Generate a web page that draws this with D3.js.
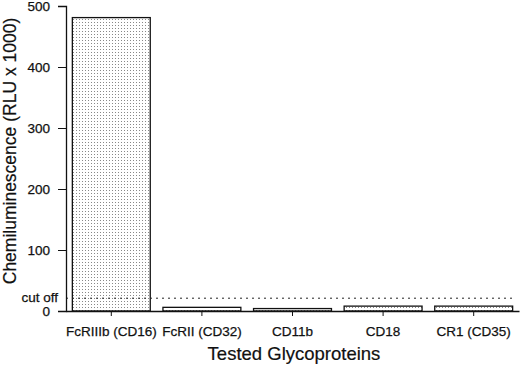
<!DOCTYPE html>
<html>
<head>
<meta charset="utf-8">
<script src="https://cdn.jsdelivr.net/npm/d3@7"></script>
<style>
    body { margin: 0; background: #fff; }
    svg { display: block; font-family: "Liberation Sans", Arial, sans-serif; }
</style>
</head>
<body>
<div id="chart"></div>
<script>
const categories = ['FcRIIIb (CD16)', 'FcRII (CD32)', 'CD11b', 'CD18', 'CR1 (CD35)']
const values = [481, 6, 4, 8, 8]
const yTicks = [0, 100, 200, 300, 400, 500]
const cutOff = 21

const width = 520, height = 365
const svg = d3.select('#chart').append('svg')
    .attr('width', width)
    .attr('height', height)

// stipple fill for bars
const defs = svg.append('defs')
const pat = defs.append('pattern')
    .attr('id', 'dots')
    .attr('patternUnits', 'userSpaceOnUse')
    .attr('width', 3)
    .attr('height', 3)
pat.append('rect').attr('width', 3).attr('height', 3).attr('fill', '#fff')
pat.append('rect').attr('x', 1).attr('y', 1).attr('width', 1).attr('height', 1).attr('fill', '#888')

const x = d3.scaleBand()
    .domain(categories)
    .range([66, 519])
    .paddingInner(0.14)
    .paddingOuter(0.07)

const y = d3.scaleLinear()
    .domain([0, 500])
    .range([311, 6])

// bars
svg.append('g')
    .selectAll('rect')
    .data(values)
    .enter()
    .append('rect')
    .attr('x', (d, i) => x(categories[i]))
    .attr('y', d => y(d))
    .attr('width', x.bandwidth())
    .attr('height', d => y(0) - y(d))
    .attr('fill', 'url(#dots)')
    .attr('stroke', '#111')
    .attr('stroke-width', 1.3)

// cut off line
svg.append('line')
    .attr('x1', 66)
    .attr('x2', 515)
    .attr('y1', y(cutOff))
    .attr('y2', y(cutOff))
    .attr('stroke', '#222')
    .attr('stroke-width', 1)
    .attr('stroke-dasharray', '2,4')

// y axis, minor ticks every 20
const yAxisG = svg.append('g')
    .attr('transform', 'translate(66,0)')
yAxisG.call(d3.axisLeft(y).tickValues(d3.range(0, 501, 20)).tickSize(5).tickFormat(''))
yAxisG.call(d3.axisLeft(y).tickValues(yTicks).tickSize(8).tickPadding(8).tickFormat(d3.format('d')))
yAxisG.selectAll('.domain').attr('stroke', '#111').attr('stroke-width', 1.3)
yAxisG.selectAll('line').attr('stroke', '#111')
yAxisG.selectAll('text').attr('font-size', 13.5).attr('fill', '#111')
    .attr('stroke', '#111').attr('stroke-width', 0.25)

svg.append('text')
    .attr('x', 58)
    .attr('y', y(cutOff) + 4)
    .attr('text-anchor', 'end')
    .attr('font-size', 13.5)
    .attr('fill', '#111')
    .attr('stroke', '#111').attr('stroke-width', 0.25)
    .text('cut off')

// x axis
const xAxisG = svg.append('g')
    .attr('transform', `translate(0,${y(0)})`)
    .call(d3.axisBottom(x).tickSize(5).tickSizeOuter(0).tickPadding(10))
xAxisG.selectAll('.domain').attr('stroke', '#111').attr('stroke-width', 1.3)
xAxisG.selectAll('line').attr('stroke', '#111')
xAxisG.selectAll('text').attr('font-size', 13.5).attr('fill', '#111')
    .attr('stroke', '#111').attr('stroke-width', 0.25)

// titles
svg.append('text')
    .attr('x', 294)
    .attr('y', 360)
    .attr('text-anchor', 'middle')
    .attr('font-size', 18.5)
    .attr('fill', '#111')
    .attr('stroke', '#111').attr('stroke-width', 0.2)
    .text('Tested Glycoproteins')

svg.append('text')
    .attr('transform', 'translate(16,151) rotate(-90)')
    .attr('text-anchor', 'middle')
    .attr('font-size', 17.5)
    .attr('fill', '#111')
    .attr('stroke', '#111').attr('stroke-width', 0.2)
    .text('Chemiluminescence (RLU x 1000)')
</script>
</body>
</html>
